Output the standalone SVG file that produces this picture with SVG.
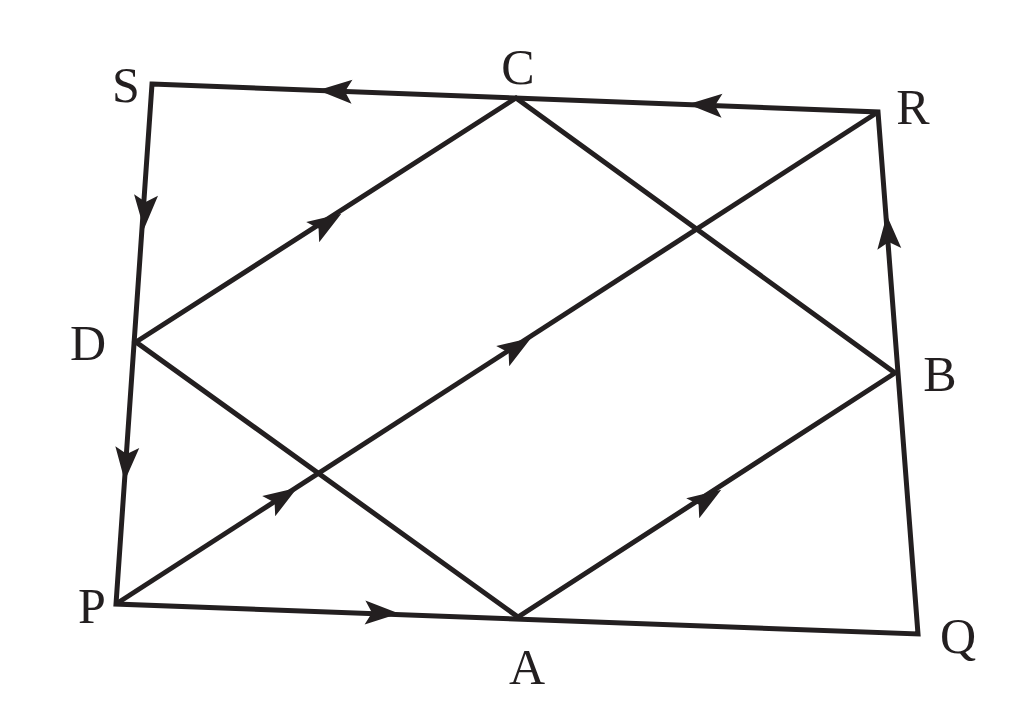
<svg xmlns="http://www.w3.org/2000/svg" width="1024" height="701" viewBox="0 0 1024 701">
<style>
.l{stroke:#231f20;stroke-width:5;fill:none;stroke-linejoin:miter}
.t{font-family:"Liberation Serif",serif;font-size:50px;fill:#231f20;text-anchor:middle}
</style>
<defs><path id="ah" d="M17,0 L-17,-12 L-10,0 L-17,12 Z" fill="#231f20"/></defs>
<rect width="1024" height="701" fill="#fff"/>
<g id="connectors">
<path class="l" d="M152,84 L878,112 L918,634 L116,604 Z"/>
<path class="l" d="M136,342 L516,98 L895,373 L518,617 Z"/>
<path class="l" d="M116,604 L878,112"/>
<use href="#ah" transform="translate(335,91) rotate(182.2)"/>
<use href="#ah" transform="translate(705,105) rotate(182.2)"/>
<use href="#ah" transform="translate(145,212) rotate(93.5)"/>
<use href="#ah" transform="translate(126,464) rotate(94.4)"/>
<use href="#ah" transform="translate(888,232) rotate(265.6)"/>
<use href="#ah" transform="translate(382,613) rotate(1.85)"/>
<use href="#ah" transform="translate(327,223) rotate(-32.7)"/>
<use href="#ah" transform="translate(517,347) rotate(-32.8)"/>
<use href="#ah" transform="translate(283,497) rotate(-32.8)"/>
<use href="#ah" transform="translate(707,499) rotate(-32.9)"/>
</g>
<g id="S"><text class="t" x="126" y="102">S</text></g>
<g id="C"><text class="t" x="518" y="84">C</text></g>
<g id="R"><text class="t" x="913" y="124">R</text></g>
<g id="D"><text class="t" x="88" y="360">D</text></g>
<g id="B"><text class="t" x="940" y="391">B</text></g>
<g id="P"><text class="t" x="92" y="623">P</text></g>
<g id="A"><text class="t" x="527" y="684">A</text></g>
<g id="Q"><text class="t" x="958" y="653">Q</text></g>
</svg>
